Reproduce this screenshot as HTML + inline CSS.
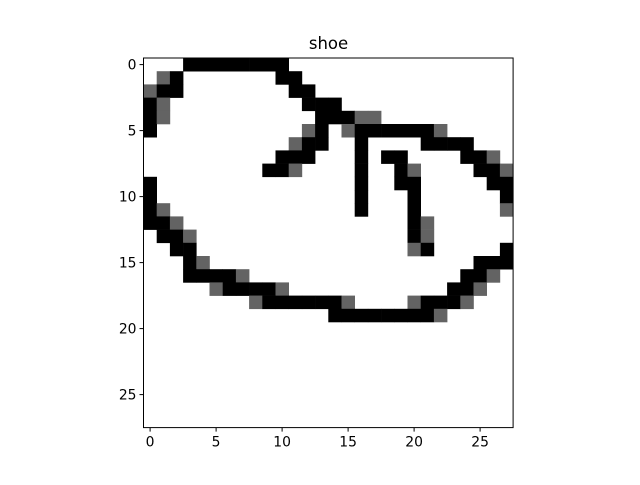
<!DOCTYPE html>
<html><head><meta charset="utf-8"><style>
html,body{margin:0;padding:0;background:#fff;}
svg text{font-family:"DejaVu Sans","Liberation Sans",sans-serif;}
</style></head><body>
<svg id="chart" width="640" height="480" xmlns="http://www.w3.org/2000/svg">
<rect width="640" height="480" fill="#fff"/>
<text x="328.5" y="49" font-size="16.5" text-anchor="middle">shoe</text>
<g id="cells"></g>
<g id="axes"></g>
</svg>
<script>
// pixel rows: '.'=white, 'G'=gray, 'B'=black
const rows = [
"...BBBBBBBB.................",
".GB.......BB................",
"GBB........BB...............",
"BG..........BBB.............",
"BG...........BBBGG..........",
"B...........GB.GBBBBBBG.....",
"...........GBB..B....BBBB...",
"..........BBB...B.BB....BBG.",
".........BBG....B..BG....BBG",
"B...............B..BB.....BB",
"B...............B...B......B",
"BG..............B...B......G",
"BBG.................BG......",
".BBG................BG......",
"..BB................GB.....B",
"...BG....................BBB",
"...BBBBG................BBG.",
".....GBBBBG............BBG..",
"........GBBBBBBG....GBBBG...",
"..............BBBBBBBBG.....",
"............................",
"............................",
"............................",
"............................",
"............................",
"............................",
"............................",
"............................"
];
const levels = {".":0,"G":0.6,"B":1};
const xTicks = [0,5,10,15,20,25];
const yTicks = [0,5,10,15,20,25];
const ns="http://www.w3.org/2000/svg";
const X0=143.5, Y0=58, N=28, S=369.6/N;
function xs(c){return X0+(c+0.5)*S;}
function ys(r){return Y0+(r+0.5)*S;}
function color(v){return v===0?"#ffffff":(v===1?"#000000":"#636363");}
const cg=document.getElementById('cells');
rows.forEach((row,r)=>{[...row].forEach((ch,c)=>{
  const v=levels[ch]; if(!v) return;
  const rc=document.createElementNS(ns,'rect');
  
  
  rc.setAttribute('x',(xs(c)-S/2).toFixed(2));rc.setAttribute('y',(ys(r)-S/2).toFixed(2));
  rc.setAttribute('width',(S+0.3).toFixed(2));rc.setAttribute('height',(S+0.3).toFixed(2));
  rc.setAttribute('fill',color(v));
  cg.appendChild(rc);
});});
const ag=document.getElementById('axes');
const frame=document.createElementNS(ns,'rect');


frame.setAttribute('x',X0);frame.setAttribute('y',Y0);frame.setAttribute('width',N*S);frame.setAttribute('height',N*S);
frame.setAttribute('fill','none');frame.setAttribute('stroke','#000');frame.setAttribute('stroke-width','1');
ag.appendChild(frame);
xTicks.forEach(t=>{
  const l=document.createElementNS(ns,'line');
  
  
  const x=xs(t);l.setAttribute('x1',x);l.setAttribute('x2',x);l.setAttribute('y1',Y0+N*S);l.setAttribute('y2',Y0+N*S+4);l.setAttribute('stroke','#000');
  ag.appendChild(l);
  const tx=document.createElementNS(ns,'text');
  
  
  tx.setAttribute('x',x);tx.setAttribute('y',Y0+N*S+19);tx.setAttribute('font-size','13.9');tx.setAttribute('text-anchor','middle');
  tx.textContent=t;ag.appendChild(tx);
});
yTicks.forEach(t=>{
  const l=document.createElementNS(ns,'line');
  
  
  const y=ys(t);l.setAttribute('x1',X0-4);l.setAttribute('x2',X0);l.setAttribute('y1',y);l.setAttribute('y2',y);l.setAttribute('stroke','#000');
  ag.appendChild(l);
  const tx=document.createElementNS(ns,'text');
  
  
  tx.setAttribute('x',X0-7);tx.setAttribute('y',y+5);tx.setAttribute('font-size','13.9');tx.setAttribute('text-anchor','end');
  tx.textContent=t;ag.appendChild(tx);
});
</script>
</body></html>
